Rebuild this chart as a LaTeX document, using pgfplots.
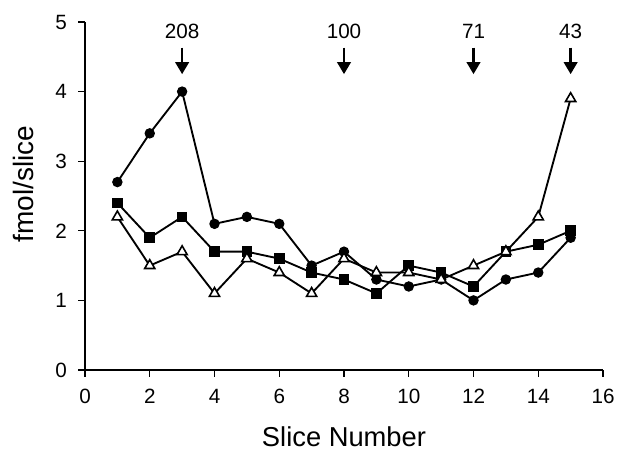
\documentclass[border=0pt]{standalone}
\usepackage{fontspec}
\setmainfont{Liberation Sans}
\usepackage{pgfplots}
\pgfplotsset{compat=1.18}
\usetikzlibrary{arrows.meta}
\begin{document}
\begin{tikzpicture}
\begin{axis}[
  scale only axis,
  width=388.5pt, height=261pt,
  xmin=0, xmax=16, ymin=0, ymax=5,
  axis lines=left,
  axis line style={-, line width=0.8pt},
  xtick={0,2,...,16}, ytick={0,1,...,5},
  tick align=outside,
  major tick length=5pt,
  tick style={line width=0.8pt, black},
  /pgf/number format/assume math mode=true,
  ticklabel style={font=\fontsize{15.5}{18}\selectfont},
  xticklabel style={yshift=-6pt},
  yticklabel style={xshift=-5pt},
  xlabel={Slice Number},
  xlabel style={font=\fontsize{20.5}{24}\selectfont, at={(axis description cs:0.5,0)}, anchor=base, yshift=-57.5pt},
  clip=false,
]
\addplot[black, line width=1.4pt, mark=*, mark size=3.5pt, mark options={line width=0.8pt}] coordinates {
(1,2.7) (2,3.4) (3,4.0) (4,2.1) (5,2.2) (6,2.1) (7,1.5) (8,1.7) (9,1.3) (10,1.2) (11,1.3) (12,1.0) (13,1.3) (14,1.4) (15,1.9)};
\addplot[black, line width=1.4pt, mark=square*, mark size=3.6pt, mark options={line width=0.8pt}] coordinates {
(1,2.4) (2,1.9) (3,2.2) (4,1.7) (5,1.7) (6,1.6) (7,1.4) (8,1.3) (9,1.1) (10,1.5) (11,1.4) (12,1.2) (13,1.7) (14,1.8) (15,2.0)};
\addplot[black, line width=1.4pt, mark=triangle*, mark size=4.4pt, mark options={fill=white, line width=1.2pt}] coordinates {
(1,2.2) (2,1.5) (3,1.7) (4,1.1) (5,1.6) (6,1.4) (7,1.1) (8,1.6) (9,1.4) (10,1.4) (11,1.3) (12,1.5) (13,1.7) (14,2.2) (15,3.9)};
\foreach \xx/\lab in {3/208, 8/100, 12/71, 15/43} {
  \edef\tmp{\noexpand\node[font=\noexpand\fontsize{15.5}{18}\noexpand\selectfont] at (axis cs:\xx,4.86) {\lab};
  \noexpand\draw[line width=2pt, -{Triangle[width=10pt,length=9pt]}] (axis cs:\xx,4.63) -- (axis cs:\xx,4.25);}
  \tmp
}
\node[font=\fontsize{21}{24}\selectfont, rotate=90, anchor=center] at ([xshift=-46.5pt]rel axis cs:0,0.534) {fmol/slice};
\coordinate (bl) at (rel axis cs:0,0);
\coordinate (tr) at (rel axis cs:1,1);
\end{axis}
\path ([xshift=-63.75pt,yshift=-59.25pt]bl) rectangle ([xshift=12pt,yshift=16.5pt]tr);
\end{tikzpicture}
\end{document}
